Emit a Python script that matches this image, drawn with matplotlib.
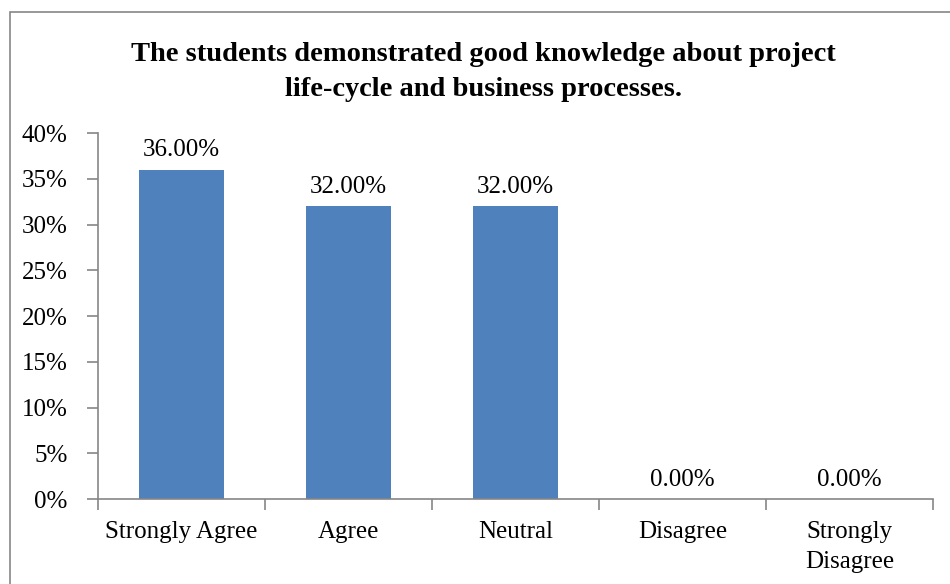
import matplotlib
matplotlib.use("Agg")
import matplotlib.pyplot as plt
from matplotlib.patches import Rectangle

plt.rcParams['font.family'] = ['Liberation Serif', 'DejaVu Serif']

categories = ['Strongly Agree', 'Agree', 'Neutral', 'Disagree', 'Strongly\nDisagree']
values = [36.0, 32.0, 32.0, 0.0, 0.0]
yticks = [0, 5, 10, 15, 20, 25, 30, 35, 40]
title = 'The students demonstrated good knowledge about project\nlife-cycle and business processes.'

grey = '#868686'
fs = 18
fig = plt.figure(figsize=(9.5, 5.84), dpi=100)
ax = fig.add_axes([98 / 950, 1 - 499 / 584, (933 - 98) / 950, (499 - 133) / 584])

x = list(range(len(categories)))
ax.bar(x, values, width=0.51, color='#4F81BD')
for xi, v in zip(x, values):
    ax.text(xi, v + 0.9, '{:.2f}%'.format(v), ha='center', va='bottom', fontsize=fs)

ax.set_xlim(-0.5, len(categories) - 0.5)
ax.set_ylim(0, 40)
ax.set_yticks(yticks)
ax.set_yticklabels(['{}%'.format(t) for t in yticks], fontsize=fs)
ax.set_xticks(x)
ax.set_xticklabels(categories, fontsize=fs, linespacing=1.45)
ax.tick_params(axis='x', length=0, pad=16)
ax.tick_params(axis='y', length=8, color=grey, width=1.2, pad=14)
# category separators on x axis
ax.set_xticks([i - 0.5 for i in range(len(categories) + 1)], minor=True)
ax.tick_params(axis='x', which='minor', length=8, color=grey, width=1.2)

for s in ['top', 'right']:
    ax.spines[s].set_visible(False)
for s in ['left', 'bottom']:
    ax.spines[s].set_color(grey)
    ax.spines[s].set_linewidth(1.2)

fig.text(483 / 950, 1 - 72 / 584, title, ha='center', va='center',
         fontsize=20.5, fontweight='bold', linespacing=1.5)

# outer chart border
fig.patches.append(Rectangle((10 / 950, -0.1), 1.2, 1 - 12 / 584 + 0.1,
                             transform=fig.transFigure, fill=False,
                             edgecolor=grey, linewidth=1.2))

fig.savefig('out.png', dpi=100)
